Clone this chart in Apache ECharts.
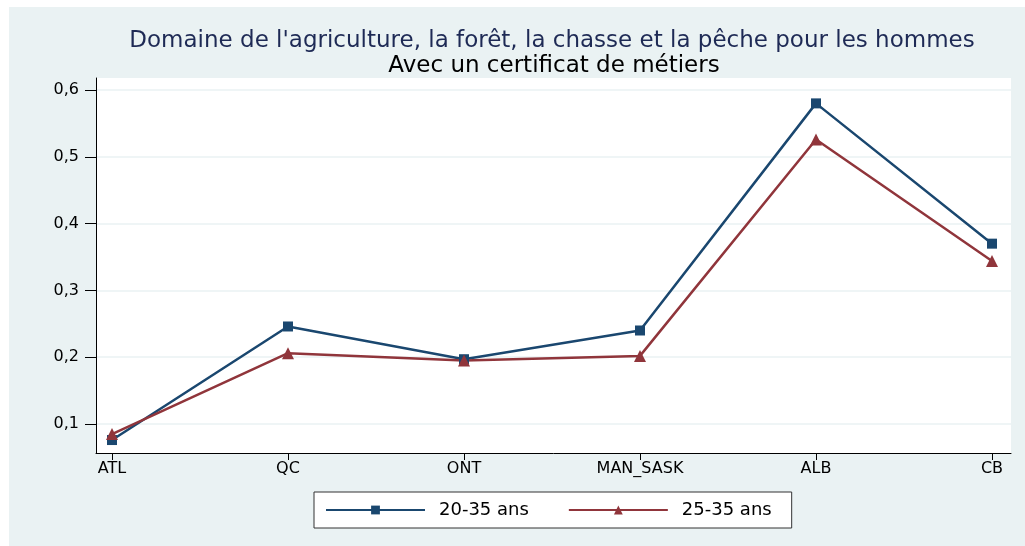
<!DOCTYPE html>
<html>
<head>
<meta charset="utf-8">
<script src="https://cdn.jsdelivr.net/npm/echarts@6/dist/echarts.min.js"></script>
<style>
  html, body { margin: 0; padding: 0; background: #ffffff; }
  #chart { position: absolute; left: 9px; top: 7px; width: 1016px; height: 539px; }
</style>
</head>
<body>
<div id="chart"></div>
<script>
const regions = ['ATL', 'QC', 'ONT', 'MAN_SASK', 'ALB', 'CB'];
const ages2035 = [0.076, 0.246, 0.197, 0.240, 0.580, 0.370];
const ages2535 = [0.085, 0.206, 0.195, 0.202, 0.526, 0.344];
const yTicks = [0.1, 0.2, 0.3, 0.4, 0.5, 0.6];

const chart = echarts.init(document.getElementById('chart'));

const font = 'DejaVu Sans, Liberation Sans, sans-serif';

chart.setOption({
  animation: false,
  backgroundColor: '#eaf2f3',
  title: [
    {
      text: "Domaine de l'agriculture, la forêt, la chasse et la pêche pour les hommes",
      left: 538,
      top: 18,
      textAlign: 'center',
      textStyle: { color: '#1e2a55', fontFamily: font, fontSize: 23, fontWeight: 'normal' }
    },
    {
      text: 'Avec un certificat de métiers',
      left: 540,
      top: 43,
      textAlign: 'center',
      textStyle: { color: '#000000', fontFamily: font, fontSize: 23, fontWeight: 'normal' }
    }
  ],
  grid: {
    left: 87,
    right: 14,
    top: 71,
    bottom: 93,
    show: true,
    backgroundColor: '#ffffff',
    borderWidth: 0
  },
  legend: {
    left: 305,
    top: 485,
    orient: 'horizontal',
    backgroundColor: '#ffffff',
    borderColor: '#333333',
    borderWidth: 1,
    borderRadius: 0,
    padding: [9, 20, 9, 11],
    itemWidth: 99,
    itemHeight: 11,
    itemGap: 39,
    textStyle: { color: '#000000', fontFamily: font, fontSize: 18, padding: [0, 9, 0, 9] },
    data: ['20-35 ans', '25-35 ans']
  },
  xAxis: {
    type: 'value',
    min: -0.0909,
    max: 5.108,
    splitLine: { show: false },
    axisLine: { show: true, onZero: false, lineStyle: { color: '#000000', width: 1 } },
    axisTick: { show: true, length: 7, customValues: [0, 1, 2, 3, 4, 5], lineStyle: { color: '#000000' } },
    axisLabel: {
      customValues: [0, 1, 2, 3, 4, 5],
      margin: 8,
      color: '#000000',
      fontFamily: font,
      fontSize: 16,
      formatter: (v) => regions[Math.round(v)] || ''
    }
  },
  yAxis: {
    type: 'value',
    min: 0.0566,
    max: 0.618,
    axisLine: { show: true, onZero: false, lineStyle: { color: '#000000', width: 1 } },
    axisTick: { show: true, length: 11, customValues: yTicks, lineStyle: { color: '#000000' } },
    axisLabel: {
      customValues: yTicks,
      margin: 17,
      color: '#000000',
      fontFamily: font,
      fontSize: 16,
      formatter: (v) => v.toFixed(1).replace('.', ',')
    },
    splitLine: { show: true, lineStyle: { color: '#eaf2f3', width: 1.5 } }
  },
  series: [
    {
      name: '20-35 ans',
      type: 'line',
      data: ages2035.map((v, i) => [i, v]),
      symbol: 'rect',
      symbolSize: 10,
      lineStyle: { color: '#1a476f', width: 2.5 },
      itemStyle: { color: '#1a476f' }
    },
    {
      name: '25-35 ans',
      type: 'line',
      data: ages2535.map((v, i) => [i, v]),
      symbol: 'triangle',
      symbolSize: 12,
      lineStyle: { color: '#90353b', width: 2.5 },
      itemStyle: { color: '#90353b' }
    }
  ]
});

window.addEventListener('resize', () => {
  chart.resize();
});
</script>
</body>
</html>
